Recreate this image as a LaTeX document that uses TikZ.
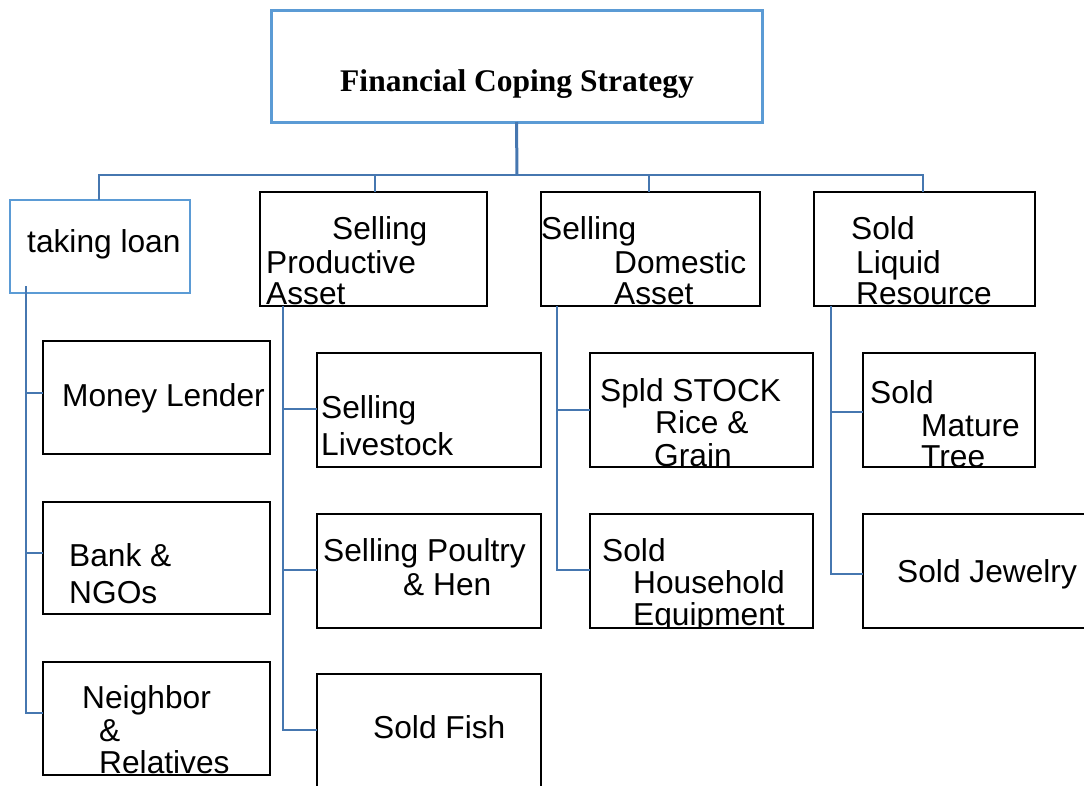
\documentclass[tikz,border=0pt]{standalone}
\usepackage{fontspec}
\setmainfont{Liberation Sans}
\newfontfamily\titlefont{Liberation Serif}
\usetikzlibrary{positioning}
\definecolor{linkBlue}{HTML}{4677B0}
\definecolor{rootDraw}{HTML}{5B9BD5}
\tikzset{
  font=\fontsize{31.7}{33}\selectfont,
  box/.style  ={draw, inner sep=0pt, outer sep=0pt, line width=2.6pt},
  bbox/.style ={box, draw=black},
  lbox/.style ={box, draw=rootDraw},
  txt/.style  ={inner sep=0pt, anchor=base west},
  link/.style ={draw=linkBlue, line width=2.2pt},
}

\begin{document}
\begin{tikzpicture}[x=1pt, y=-1pt]
  \clip (0,0) rectangle (1084,785);

  % top box
  \node[lbox, line width=3pt, minimum width=491, minimum height=112] (root) at (516.5,66) {};
  \node[txt, anchor=base, font=\titlefont\bfseries\fontsize{31.5}{33}\selectfont] (rootT) at (517,91) {Financial Coping Strategy};

  % first level
  \node[lbox, minimum width=180, minimum height=93] (loan) at (100,246.5) {};
  \node[bbox, minimum width=227, minimum height=114] (prod) at (373.5,249) {};
  \node[bbox, minimum width=219, minimum height=114] (dom)  at (650.5,249) {};
  \node[bbox, minimum width=221, minimum height=114] (liq)  at (924.5,249) {};

  \node[txt] (loanT) at (27,252) {taking loan};
  \node[txt] (prodA) at (332,239) {Selling};
  \node[txt] (prodB) at (266,273) {Productive};
  \node[txt] (prodC) at (266,304) {Asset};
  \node[txt] (domA)  at (541,239) {Selling};
  \node[txt] (domB)  at (614,273) {Domestic};
  \node[txt] (domC)  at (614,304) {Asset};
  \node[txt] (liqA)  at (851,239) {Sold};
  \node[txt] (liqB)  at (856,273) {Liquid};
  \node[txt] (liqC)  at (856,304) {Resource};

  % tree from the top box to the first level
  \coordinate (bus) at (517,175);
  \draw[link, line width=3pt] (root.south) -- (bus);
  \draw[link] (loan.north -| 99,0) |- (bus) -| (liq.north -| 923,0);
  \draw[link] (bus -| 375,0) -- (prod.north -| 375,0);
  \draw[link] (bus -| 649,0) -- (dom.north -| 649,0);

  % loan sources
  \node[bbox, minimum width=227, minimum height=113] (lender)   at (156.5,397.5) {};
  \node[bbox, minimum width=227, minimum height=112] (bank)     at (156.5,558)   {};
  \node[bbox, minimum width=227, minimum height=113] (neighbor) at (156.5,718.5) {};
  \node[txt] (lenderT)   at (62,406) {Money Lender};
  \node[txt] (bankA)     at (69,566) {Bank \&};
  \node[txt] (bankB)     at (69,603) {NGOs};
  \node[txt] (neighborA) at (82,708) {Neighbor};
  \node[txt] (neighborB) at (99,741) {\&};
  \node[txt] (neighborC) at (99,773) {Relatives};

  % productive assets
  \node[bbox, minimum width=224, minimum height=114] (livestock) at (429,410) {};
  \node[bbox, minimum width=224, minimum height=114] (poultry)   at (429,571) {};
  \node[bbox, minimum width=224, minimum height=116] (fish)      at (429,732) {};
  \node[txt] (livestockA) at (321,418) {Selling};
  \node[txt] (livestockB) at (321,455) {Livestock};
  \node[txt] (poultryA)   at (323,561) {Selling Poultry};
  \node[txt] (poultryB)   at (403,595) {\& Hen};
  \node[txt] (fishT)      at (373,738) {Sold Fish};

  % domestic assets
  \node[bbox, minimum width=223, minimum height=114] (stock)     at (701.5,410) {};
  \node[bbox, minimum width=223, minimum height=114] (household) at (701.5,571) {};
  \node[txt] (stockA) at (600,401) {Spld STOCK};
  \node[txt] (stockB) at (655,433) {Rice \&};
  \node[txt] (stockC) at (654,466) {Grain};
  \begin{scope}
    \clip (household.north west) rectangle (household.south east);
    \node[txt] (householdA) at (602,561) {Sold};
    \node[txt] (householdB) at (633,593) {Household};
    \node[txt] (householdC) at (633,625) {Equipment};
  \end{scope}

  % liquid resources
  \node[bbox, minimum width=172, minimum height=114] (tree)    at (949,410) {};
  \node[bbox, minimum width=227, minimum height=114] (jewelry) at (976.5,571) {};
  \node[txt] (treeA)   at (870,403) {Sold};
  \node[txt] (treeB)   at (921,436) {Mature};
  \node[txt] (treeC)   at (921,467) {Tree};
  \node[txt] (jewelryT) at (897,582) {Sold Jewelry};

  % branches to the second level
  \draw[link] (26,286) |- (neighbor.west |- 0,713);
  \draw[link] (26,393) -- (lender.west |- 0,393);
  \draw[link] (26,553) -- (bank.west |- 0,553);

  \draw[link] (prod.south -| 283,0) |- (fish.west |- 0,730);
  \draw[link] (283,409) -- (livestock.west |- 0,409);
  \draw[link] (283,570) -- (poultry.west |- 0,570);

  \draw[link] (dom.south -| 557,0) |- (household.west |- 0,570);
  \draw[link] (557,410) -- (stock.west |- 0,410);

  \draw[link] (liq.south -| 831,0) |- (jewelry.west |- 0,574);
  \draw[link] (831,412) -- (tree.west |- 0,412);
\end{tikzpicture}
\end{document}
